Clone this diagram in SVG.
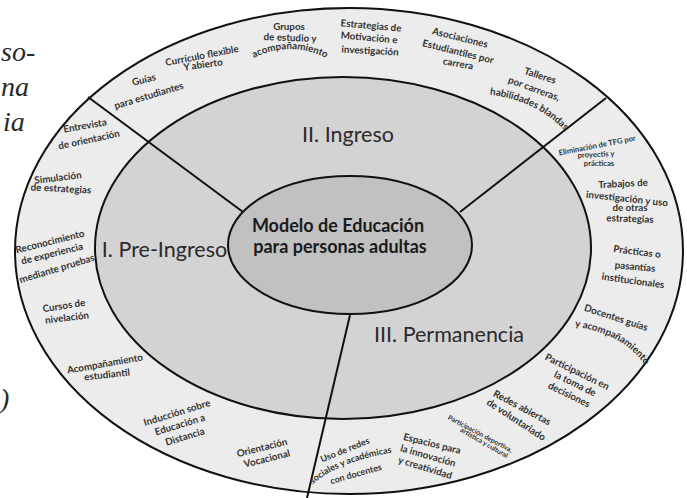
<svg xmlns="http://www.w3.org/2000/svg" width="687" height="498" viewBox="0 0 687 498">
<style>
.lb{font-family:Lato,"Open Sans","Liberation Sans",sans-serif;font-weight:bold;font-size:9.8px;fill:#333;text-anchor:middle}
.sec{font-family:Lato,"Open Sans","Liberation Sans",sans-serif;font-size:21.5px;fill:#2a2a2a;text-anchor:middle}
.ctr{font-family:Lato,"Open Sans","Liberation Sans",sans-serif;font-weight:bold;font-size:18px;fill:#1a1a1a;text-anchor:middle}
.pg{font-family:"Liberation Serif","DejaVu Serif",serif;font-style:italic;font-size:28px;fill:#2a2a2a}
.ring{stroke:#111;stroke-width:2}
</style>
<defs>
<path id="p-acomp1" d="M 250 60 Q 290 38 330 60"/>
<path id="p-habil" d="M 485 94 Q 537 99 568 134"/>
<path id="p-acomp2" d="M 571 326 Q 625 333 647 368"/>
<path id="p-soc" d="M 310 487 Q 334 462 396 452"/>
</defs>
<rect width="687" height="498" fill="#ffffff"/>
<g id="page-text">
<text class="pg" x="1" y="61">so-</text>
<text class="pg" x="1" y="96">na</text>
<text class="pg" x="3" y="131">ia</text>
<text class="pg" x="0" y="408">)</text>
</g>
<g id="outer-ring"><ellipse class="ring" cx="349" cy="251" rx="334" ry="243" fill="#ececec"/></g>
<g id="middle-ring"><ellipse class="ring" cx="343" cy="248" rx="248" ry="171" fill="#d3d3d3"/></g>
<g id="connectors" stroke="#111" stroke-width="2" fill="none">
<line x1="88" y1="97" x2="243" y2="212"/>
<line x1="606" y1="98" x2="460" y2="212"/>
<line x1="350" y1="315" x2="307" y2="498"/>
</g>
<g id="center">
<ellipse class="ring" cx="350" cy="245" rx="122" ry="69" fill="#c1c1c1"/>
<text class="ctr" x="338" y="232">Modelo de Educación</text>
<text class="ctr" x="340" y="253">para personas adultas</text>
</g>
<g id="sec-preingreso"><text class="sec" x="164.5" y="257">I. Pre-Ingreso</text></g>
<g id="sec-ingreso"><text class="sec" x="348" y="142">II. Ingreso</text></g>
<g id="sec-permanencia"><text class="sec" x="449" y="342">III. Permanencia</text></g>

<g id="n-guias">
<text class="lb" transform="translate(144,80) rotate(-14)" y="3">Guías</text>
<text class="lb" transform="translate(149,96) rotate(-17)" y="3">para estudiantes</text>
</g>
<g id="n-curriculo">
<text class="lb" transform="translate(202,56) rotate(-11)" y="3">Currículo flexible</text>
<text class="lb" transform="translate(203,65) rotate(-8)" y="3">Y abierto</text>
</g>
<g id="n-grupos">
<text class="lb" transform="translate(289,27)" y="3">Grupos</text>
<text class="lb" transform="translate(290,38) rotate(2)" y="3">de estudio y</text>
<text class="lb"><textPath href="#p-acomp1" startOffset="50%">acompañamiento</textPath></text>
</g>
<g id="n-estrategias">
<text class="lb" transform="translate(371,26) rotate(5)" y="3">Estrategias de</text>
<text class="lb" transform="translate(369,38) rotate(5)" y="3">Motivación e</text>
<text class="lb" transform="translate(370,51) rotate(3)" y="3">investigación</text>
</g>
<g id="n-asociaciones">
<text class="lb" transform="translate(460,38) rotate(14)" y="3">Asociaciones</text>
<text class="lb" transform="translate(458,52) rotate(14)" y="3">Estudiantiles por</text>
<text class="lb" transform="translate(458,64) rotate(10)" y="3">carrera</text>
</g>
<g id="n-talleres">
<text class="lb" transform="translate(540,76) rotate(18)" y="3">Talleres</text>
<text class="lb" transform="translate(534,89) rotate(20)" y="3">por carreras,</text>
<text class="lb"><textPath href="#p-habil" startOffset="50%">habilidades blandas</textPath></text>
</g>
<g id="n-eliminacion">
<text class="lb" style="font-size:7.6px" transform="translate(597,145) rotate(-11)" y="3">Eliminación de TFG por</text>
<text class="lb" style="font-size:7.6px" transform="translate(596,154) rotate(-3)" y="3">proyectis y</text>
<text class="lb" style="font-size:7.6px" transform="translate(599,163)" y="3">prácticas</text>
</g>
<g id="n-trabajos">
<text class="lb" transform="translate(623,184) rotate(-3)" y="3">Trabajos de</text>
<text class="lb" transform="translate(627,199) rotate(6)" y="3">investigación y uso</text>
<text class="lb" transform="translate(630,208)" y="3">de otras</text>
<text class="lb" transform="translate(630,219) rotate(2)" y="3">estrategias</text>
</g>
<g id="n-practicas">
<text class="lb" transform="translate(637,252) rotate(7)" y="3">Prácticas o</text>
<text class="lb" transform="translate(635,267) rotate(5)" y="3">pasantías</text>
<text class="lb" transform="translate(633,281) rotate(8)" y="3">institucionales</text>
</g>
<g id="n-docentes">
<text class="lb" transform="translate(616,318) rotate(18)" y="3">Docentes guías</text>
<text class="lb"><textPath href="#p-acomp2" startOffset="50%">y acompañamiento</textPath></text>
</g>
<g id="n-participacion">
<text class="lb" transform="translate(577,372) rotate(26)" y="3">Participación en</text>
<text class="lb" transform="translate(575,384) rotate(26)" y="3">la toma de</text>
<text class="lb" transform="translate(569,395) rotate(26)" y="3">decisiones</text>
</g>
<g id="n-redes">
<text class="lb" transform="translate(522,408) rotate(28)" y="3">Redes abiertas</text>
<text class="lb" transform="translate(516,420) rotate(33)" y="3">de voluntariado</text>
</g>
<g id="n-deportiva">
<text class="lb" style="font-size:6.8px" transform="translate(480,434) rotate(28)" y="2">Participación deportiva,</text>
<text class="lb" style="font-size:6.8px" transform="translate(484,443) rotate(30)" y="2">artística y cultural</text>
</g>
<g id="n-espacios">
<text class="lb" transform="translate(432,444) rotate(14)" y="3">Espacios para</text>
<text class="lb" transform="translate(428,456) rotate(16)" y="3">la innovación</text>
<text class="lb" transform="translate(425,468) rotate(17)" y="3">y creatividad</text>
</g>
<g id="n-uso">
<text class="lb" style="font-size:9px" transform="translate(345,450) rotate(-22)" y="3">Uso de redes</text>
<text class="lb" style="font-size:9px"><textPath href="#p-soc" startOffset="50%">sociales y académicas</textPath></text>
<text class="lb" style="font-size:9px" transform="translate(356,474) rotate(-16)" y="3">con docentes</text>
</g>
<g id="n-orientacion">
<text class="lb" transform="translate(262,448) rotate(-14)" y="3">Orientación</text>
<text class="lb" transform="translate(267,459) rotate(-14)" y="3">Vocacional</text>
</g>
<g id="n-induccion">
<text class="lb" transform="translate(177,413) rotate(-17)" y="3">Inducción sobre</text>
<text class="lb" transform="translate(180,425) rotate(-17)" y="3">Educación a</text>
<text class="lb" transform="translate(185,437) rotate(-17)" y="3">Distancia</text>
</g>
<g id="n-acompanamiento">
<text class="lb" transform="translate(105,364) rotate(-10)" y="3">Acompañamiento</text>
<text class="lb" transform="translate(107,375) rotate(-6)" y="3">estudiantil</text>
</g>
<g id="n-cursos">
<text class="lb" transform="translate(64,306) rotate(-9)" y="3">Cursos de</text>
<text class="lb" transform="translate(67,318) rotate(-7)" y="3">nivelación</text>
</g>
<g id="n-reconocimiento">
<text class="lb" transform="translate(50,242) rotate(-14)" y="3">Reconocimiento</text>
<text class="lb" transform="translate(52,254) rotate(-14)" y="3">de experiencia</text>
<text class="lb" transform="translate(57,269) rotate(-17)" y="3">mediante pruebas</text>
</g>
<g id="n-simulacion">
<text class="lb" transform="translate(58,178) rotate(-7)" y="3">Simulación</text>
<text class="lb" transform="translate(61,189) rotate(3)" y="3">de estrategias</text>
</g>
<g id="n-entrevista">
<text class="lb" transform="translate(85,126) rotate(-10)" y="3">Entrevista</text>
<text class="lb" transform="translate(89,140) rotate(-12)" y="3">de orientación</text>
</g>
</svg>
